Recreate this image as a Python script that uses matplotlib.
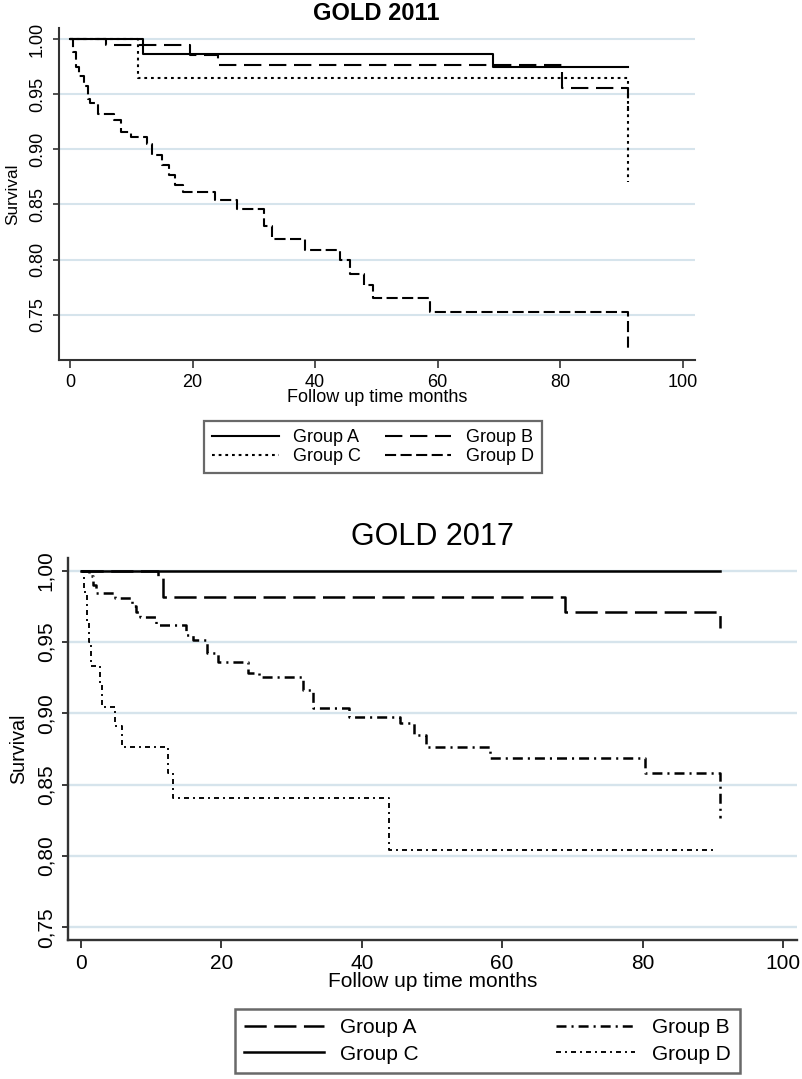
import matplotlib
matplotlib.use("Agg")
import matplotlib.pyplot as plt

plt.rcParams['font.family'] = ['Liberation Sans', 'DejaVu Sans']
plt.rcParams['lines.scale_dashes'] = False

# ---- GOLD 2011 (Kaplan-Meier steps) ----
t11_a = [0, 11.9, 69.1, 91.0]
s11_a = [1.0, 0.9864, 0.975, 0.975]
t11_b = [0, 5.9, 19.6, 24.2, 80.3, 91.0]
s11_b = [1.0, 0.9946, 0.9855, 0.9764, 0.956, 0.935]
t11_c = [0, 11.1, 91.0]
s11_c = [1.0, 0.965, 0.87]
t11_d = [0, 0.4, 0.9, 1.5, 2.2, 2.9, 3.2, 4.6, 7.2, 8.3, 10.0, 12.6, 13.3, 15.0, 16.2,
         17.2, 18.5, 23.6, 27.2, 31.6, 33.0, 38.4, 44.1, 45.7, 47.9, 49.5, 58.7, 91.0]
s11_d = [1.0, 0.988, 0.975, 0.966, 0.957, 0.946, 0.942, 0.932, 0.9265, 0.916, 0.911, 0.905,
         0.895, 0.886, 0.877, 0.868, 0.861, 0.854, 0.8455, 0.83, 0.8185, 0.809, 0.80, 0.787,
         0.777, 0.765, 0.7525, 0.719]

# ---- GOLD 2017 ----
t17_a = [0, 11.0, 11.7, 68.9, 91.0]
s17_a = [1.0, 0.9958, 0.9818, 0.9713, 0.9596]
t17_b = [0, 1.2, 1.7, 2.2, 4.8, 7.2, 7.9, 8.4, 10.7, 15.0, 16.0, 17.9, 19.5, 23.8, 25.4,
         31.6, 33.0, 38.2, 45.5, 47.4, 49.2, 58.2, 80.3, 91.0]
s17_b = [1.0, 0.996, 0.99, 0.984, 0.9806, 0.975, 0.971, 0.9677, 0.962, 0.955, 0.9514, 0.942,
         0.936, 0.928, 0.9257, 0.9163, 0.9035, 0.8976, 0.893, 0.8848, 0.8766, 0.8684, 0.858,
         0.8264]
t17_c = [0, 91.0]
s17_c = [1.0, 1.0]
t17_d = [0, 0.5, 0.9, 1.2, 1.4, 2.7, 3.0, 4.8, 5.8, 12.4, 13.1, 43.9, 90.5]
s17_d = [1.0, 0.985, 0.965, 0.95, 0.933, 0.92, 0.9046, 0.891, 0.8762, 0.858, 0.8408,
         0.8041, 0.8041]

group_labels = ['Group A', 'Group B', 'Group C', 'Group D']
yticks = [0.75, 0.80, 0.85, 0.90, 0.95, 1.00]
xticks = [0, 20, 40, 60, 80, 100]

grid_col = '#d6e4ec'
axis_col = '#333333'


def style_axes(ax, fs, ylim, lw, comma):
    ax.set_xlim(-1.8, 102)
    ax.set_ylim(*ylim)
    for s in ['top', 'right']:
        ax.spines[s].set_visible(False)
    for s in ['left', 'bottom']:
        ax.spines[s].set_color(axis_col)
        ax.spines[s].set_linewidth(lw)
    ax.set_yticks(yticks)
    if comma:
        ax.set_yticklabels([f'{v:.2f}'.replace('.', ',') for v in yticks])
    else:
        ax.set_yticklabels([f'{v:.2f}' for v in yticks])
    ax.set_xticks(xticks)
    ax.tick_params(axis='y', labelsize=fs, rotation=90, length=4.5, width=lw * 0.8,
                   color=axis_col, pad=5)
    for lab in ax.get_yticklabels():
        lab.set_va('center')
    ax.tick_params(axis='x', labelsize=fs, length=6, width=lw * 0.8, color=axis_col, pad=4)
    ax.yaxis.grid(True, color=grid_col, linewidth=lw)
    ax.set_axisbelow(True)
    ax.set_ylabel('Survival', fontsize=fs * 0.95, labelpad=6)
    ax.set_xlabel('Follow up time months', fontsize=fs, labelpad=-1)


fig = plt.figure(figsize=(8.02, 10.79), dpi=100)

# top panel
ax1 = fig.add_axes([0.0736, 0.6664, 0.793, 0.3077])
lw1 = 1.5
st11 = [dict(linestyle='-'),
        dict(dashes=(12.5, 5.5)),
        dict(dashes=(2.0, 2.8)),
        dict(dashes=(8.0, 3.2))]
series11 = [(t11_a, s11_a), (t11_b, s11_b), (t11_c, s11_c), (t11_d, s11_d)]
h1 = []
for (t, s), st, lab in zip(series11, st11, group_labels):
    ln, = ax1.step(t, s, where='post', color='black', linewidth=lw1, label=lab, **st)
    h1.append(ln)
style_axes(ax1, 13, (0.709, 1.01), 1.5, False)
fig.text(376 / 802, 1 - 13 / 1079, 'GOLD 2011', fontsize=17, fontweight='bold',
         ha='center', va='center')

leg1 = fig.legend([h1[0], h1[2], h1[1], h1[3]],
                  [group_labels[0], group_labels[2], group_labels[1], group_labels[3]],
                  ncol=2, loc='upper left', mode='expand',
                  bbox_to_anchor=(204 / 802, 1 - 421 / 1079, (542 - 204) / 802, 0),
                  fontsize=13, frameon=True, fancybox=False, handlelength=3.7,
                  handletextpad=0.8, labelspacing=0.12, borderpad=0.45,
                  columnspacing=1.5, borderaxespad=0)
leg1.get_frame().set_edgecolor('#444444')
leg1.get_frame().set_linewidth(1.6)

# bottom panel
ax2 = fig.add_axes([0.0852, 0.1288, 0.9086, 0.3538])
lw2 = 1.8
st17 = [dict(dashes=(16, 5.4)),
        dict(dashes=(7.2, 3.6, 1.5, 3.6)),
        dict(linestyle='-'),
        dict(dashes=(3.6, 2.9, 1.4, 2.9))]
series17 = [(t17_a, s17_a), (t17_b, s17_b), (t17_c, s17_c), (t17_d, s17_d)]
h2 = []
for (t, s), st, lab in zip(series17, st17, group_labels):
    w = lw2 * 0.75 if lab == 'Group D' else lw2
    ln, = ax2.step(t, s, where='post', color='black', linewidth=w, label=lab, **st)
    h2.append(ln)
style_axes(ax2, 15, (0.741, 1.0087), 1.7, True)
fig.text(432 / 802, 1 - 537 / 1079, 'GOLD 2017', fontsize=22,
         ha='center', va='center')

leg2 = fig.legend([h2[0], h2[2], h2[1], h2[3]],
                  [group_labels[0], group_labels[2], group_labels[1], group_labels[3]],
                  ncol=2, loc='upper left', mode='expand',
                  bbox_to_anchor=(235 / 802, 1 - 1009 / 1079, (740 - 235) / 802, 0),
                  fontsize=15, frameon=True, fancybox=False, handlelength=3.8,
                  handletextpad=0.8, labelspacing=0.35, borderpad=0.45,
                  columnspacing=1.5, borderaxespad=0)
leg2.get_frame().set_edgecolor('#444444')
leg2.get_frame().set_linewidth(1.8)

fig.savefig('out.png', dpi=100)
